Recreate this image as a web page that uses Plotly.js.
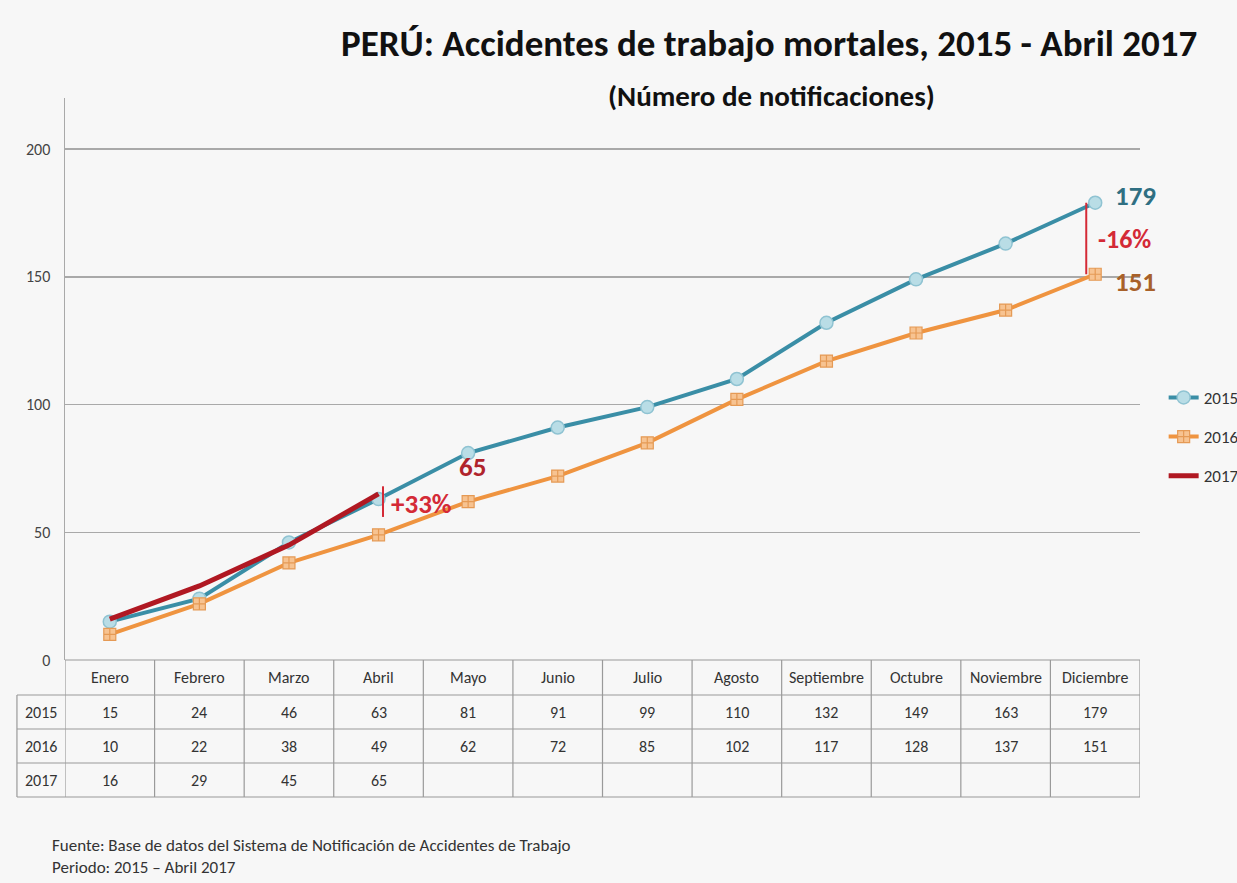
<!DOCTYPE html>
<html>
<head>
<meta charset="utf-8">
<script src="https://cdn.plot.ly/plotly-3.0.1.min.js"></script>
<style>html,body{margin:0;padding:0;background:#f7f7f7;}#chart{width:1237px;height:883px;}</style>
</head>
<body>
<div id="chart"></div>
<script>
const months = ["Enero","Febrero","Marzo","Abril","Mayo","Junio","Julio","Agosto","Septiembre","Octubre","Noviembre","Diciembre"];
const years = ["2015","2016","2017"];
const v2015 = [15,24,46,63,81,91,99,110,132,149,163,179];
const v2016 = [10,22,38,49,62,72,85,102,117,128,137,151];
const v2017 = [16,29,45,65];
const yTicks = [0,50,100,150,200];

const FONT = "Carlito, 'Liberation Sans Narrow', Lato, sans-serif";
const cTeal = "#3a8ea6", cOrange = "#ef9440", cRed = "#b01822";

const traces = [
  {x: months, y: v2015, name: "2015", legendgroup: "a", type: "scatter", mode: "lines+markers",
   line: {color: cTeal, width: 4},
   marker: {symbol: "circle", size: 13, color: "#b9dde6", line: {color: "#8fc3d2", width: 1.5}}},
  {x: months, y: v2016, name: "2016", legendgroup: "b", type: "scatter", mode: "lines+markers",
   line: {color: cOrange, width: 4},
   marker: {symbol: "square-cross", size: 12, color: "#f7c391", line: {color: "#e59a55", width: 1.2}}},
  {x: months.slice(0, v2017.length), y: v2017, name: "2017", legendgroup: "c", type: "scatter", mode: "lines",
   line: {color: cRed, width: 5}}
];

// table geometry (paper units)
const rowEdges = [0, -0.0623, -0.1228, -0.1833, -0.2438];
const labelLeft = -0.0447;
const shapes = [];
const lineStyle = {color: "#9a9a9a", width: 1.2};
for (let i = 0; i <= months.length; i++) {
  shapes.push({type: "line", xref: "x", yref: "paper", x0: i - 0.5, x1: i - 0.5, y0: rowEdges[0], y1: rowEdges[4], line: lineStyle});
}
shapes.push({type: "line", xref: "paper", yref: "paper", x0: labelLeft, x1: labelLeft, y0: rowEdges[1], y1: rowEdges[4], line: lineStyle});
rowEdges.forEach((e, k) => {
  shapes.push({type: "line", xref: "paper", yref: "paper", x0: k === 0 ? 0 : labelLeft, x1: 1, y0: e, y1: e, line: lineStyle});
});
// comparison markers
shapes.push({type: "line", xref: "x", yref: "y", x0: 10.9, x1: 10.9, y0: v2016[11], y1: v2015[11], line: {color: "#d42a36", width: 2}});
shapes.push({type: "line", xref: "x", yref: "y", x0: 3.05, x1: 3.05, y0: 56, y1: 68, line: {color: "#d42a36", width: 2}});

const annotations = [];
const cellFont = {family: FONT, size: 16, color: "#333"};
months.forEach((m, i) => {
  annotations.push({xref: "x", yref: "paper", x: m, y: (rowEdges[0] + rowEdges[1]) / 2, text: m, showarrow: false, font: cellFont, xanchor: "center", yanchor: "middle"});
});
const rows = [v2015, v2016, v2017];
rows.forEach((vals, r) => {
  const yMid = (rowEdges[r + 1] + rowEdges[r + 2]) / 2;
  annotations.push({xref: "paper", yref: "paper", x: labelLeft / 2, y: yMid, text: years[r], showarrow: false, font: cellFont, xanchor: "center", yanchor: "middle"});
  vals.forEach((v, i) => {
    annotations.push({xref: "x", yref: "paper", x: months[i], y: yMid, text: String(v), showarrow: false, font: cellFont, xanchor: "center", yanchor: "middle"});
  });
});
// value labels
annotations.push({xref: "x", yref: "y", x: 11, y: v2015[11], text: "<b>" + v2015[11] + "</b>", showarrow: false, xanchor: "left", xshift: 18, yshift: 7, font: {family: FONT, size: 27, color: "#2f6f82"}});
annotations.push({xref: "x", yref: "y", x: 11, y: v2016[11], text: "<b>" + v2016[11] + "</b>", showarrow: false, xanchor: "left", xshift: 18, yshift: -7, font: {family: FONT, size: 27, color: "#a8612a"}});
annotations.push({xref: "x", yref: "y", x: 10.9, y: (v2015[11] + v2016[11]) / 2, text: "<b>-16%</b>", showarrow: false, xanchor: "left", xshift: 10, yshift: 0, font: {family: FONT, size: 26, color: "#d42a36"}});
annotations.push({xref: "x", yref: "y", x: 4, y: v2017[3], text: "<b>" + v2017[3] + "</b>", showarrow: false, xshift: 4, yshift: 27, font: {family: FONT, size: 27, color: "#b0242c"}});
annotations.push({xref: "x", yref: "y", x: 3.05, y: 62, text: "<b>+33%</b>", showarrow: false, xanchor: "left", xshift: 6, yshift: -2, font: {family: FONT, size: 27, color: "#d42a36"}});
// titles
annotations.push({xref: "paper", yref: "paper", x: 0.655, y: 1.0, yshift: 55, text: "<b>PERÚ: Accidentes de trabajo mortales, 2015 - Abril 2017</b>", showarrow: false, font: {family: FONT, size: 37, color: "#111"}, xanchor: "center", yanchor: "middle"});
annotations.push({xref: "paper", yref: "paper", x: 0.657, y: 1.0, yshift: 2, text: "<b>(Número de notificaciones)</b>", showarrow: false, font: {family: FONT, size: 29, color: "#111"}, xanchor: "center", yanchor: "middle"});
// footer
annotations.push({xref: "paper", yref: "paper", x: -0.014, y: -0.3505, xanchor: "left", text: "Fuente: Base de datos del Sistema de Notificación de Accidentes de Trabajo<br>Periodo: 2015 – Abril 2017", align: "left", showarrow: false, font: {family: FONT, size: 17, color: "#333"}, yanchor: "middle"});

const layout = {
  width: 1237, height: 883,
  margin: {l: 65, r: 97, t: 98, b: 223, autoexpand: false},
  paper_bgcolor: "#f7f7f7", plot_bgcolor: "#f7f7f7",
  font: {family: FONT, color: "#444"},
  showlegend: true,
  legend: {x: 1.022, y: 0.397, xanchor: "left", yanchor: "middle", bgcolor: "rgba(0,0,0,0)", font: {family: FONT, size: 17, color: "#333"}, tracegroupgap: 14},
  xaxis: {type: "category", range: [-0.5, 11.5], showticklabels: false, showgrid: false, zeroline: false, showline: false, ticks: ""},
  yaxis: {range: [0, 220], tickvals: yTicks, ticktext: yTicks.map(String), showgrid: true, gridcolor: "#a9a9a9", gridwidth: 1.5,
          zeroline: false, showline: true, linecolor: "#a9a9a9", linewidth: 1.5, ticks: "", ticklen: 0, ticklabelstandoff: 10,
          tickfont: {family: FONT, size: 16, color: "#444"}},
  shapes: shapes,
  annotations: annotations
};
Plotly.newPlot("chart", traces, layout, {displayModeBar: false, staticPlot: true});
</script>
</body>
</html>
